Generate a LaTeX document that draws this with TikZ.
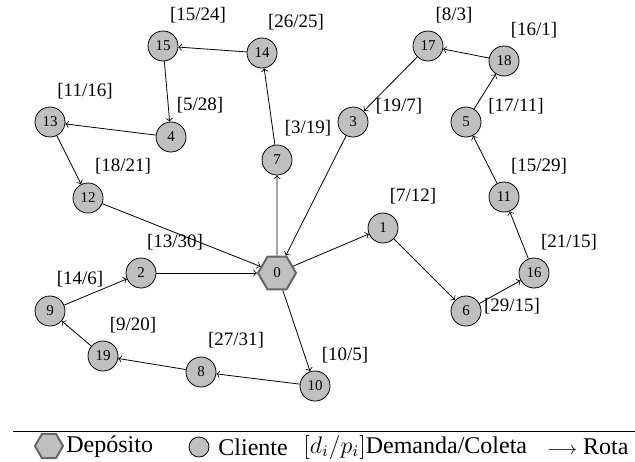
\documentclass[tikz,border=0pt]{standalone}
\usepackage{amsmath}
\usepackage{fontspec}
\setmainfont{Liberation Serif}
\usetikzlibrary{shapes.geometric}

\begin{document}
\begin{tikzpicture}[x=0.5pt,y=-0.5pt,
	cliente/.style={circle,draw,fill=black!25,minimum size=15pt,inner sep=0pt,font=\fontsize{7.5}{8}\selectfont},
	deposito/.style={regular polygon,regular polygon sides=6,draw=black!60,line width=1pt,fill=black!25,minimum size=19pt,inner sep=0pt,font=\fontsize{7.5}{8}\selectfont},
	demanda/.style={inner sep=0pt,font=\fontsize{9.5}{11}\selectfont},
	legenda/.style={inner sep=0pt,anchor=west,font=\fontsize{12}{14}\selectfont}]

	\useasboundingbox (0,0) rectangle (635,461);

	% depot and clients
	\node[deposito] (n0) at (277,273) {0};
	\foreach \i/\x/\y in {1/383/228, 2/141/273, 3/353/122, 4/171/137, 5/466/122,
		6/466/311, 7/277/160, 8/201/372, 9/50/311, 10/315/386, 11/504/197,
		12/88/198, 13/50/122, 14/262/53, 15/163/46, 16/534/273, 17/428/46,
		18/504/61, 19/103/356}{
		\node[cliente] (n\i) at (\x,\y) {\i};
	}

	% demand / pickup
	\foreach \i/\x/\y/\d/\p in {1/413/196/7/12, 2/175/242/13/30, 3/399/106/19/7,
		4/200/105/5/28, 5/516/106/17/11, 6/512/306/29/15, 7/308/128/3/19,
		8/236/340/27/31, 9/80/279/14/6, 10/345/355/10/5, 11/539/166/15/29,
		12/123/166/18/21, 13/85/91/11/16, 14/296/22/26/25, 15/198/15/15/24,
		16/569/242/21/15, 17/454/15/8/3, 18/534/30/16/1, 19/133/325/9/20}{
		\node[demanda] (d\i) at (\x,\y) {[\d/\p]};
	}

	% routes
	\foreach \a/\b in {0/1, 1/6, 6/16, 16/11, 11/5, 5/18, 18/17, 17/3, 3/0,
		0/7, 7/14, 14/15, 15/4, 4/13, 13/12, 12/0,
		0/10, 10/8, 8/19, 19/9, 9/2, 2/0}{
		\draw[->] (n\a) -- (n\b);
	}

	% legend
	\draw (13,431) -- (635,431);
	\node[deposito,minimum size=14pt] (ldep) at (49,446) {};
	\node[legenda] (tdep) at (66,447) {Depósito};
	\node[cliente,minimum size=10pt] (lcli) at (199,447) {};
	\node[legenda] (tcli) at (218,447) {Cliente};
	\node[legenda] (tdem) at (303,447) {$[d_i/p_i]$Demanda/Coleta};
	\node[legenda] (trota) at (547,447) {{\fontsize{9}{10}\selectfont$\longrightarrow$} Rota};
\end{tikzpicture}
\end{document}
